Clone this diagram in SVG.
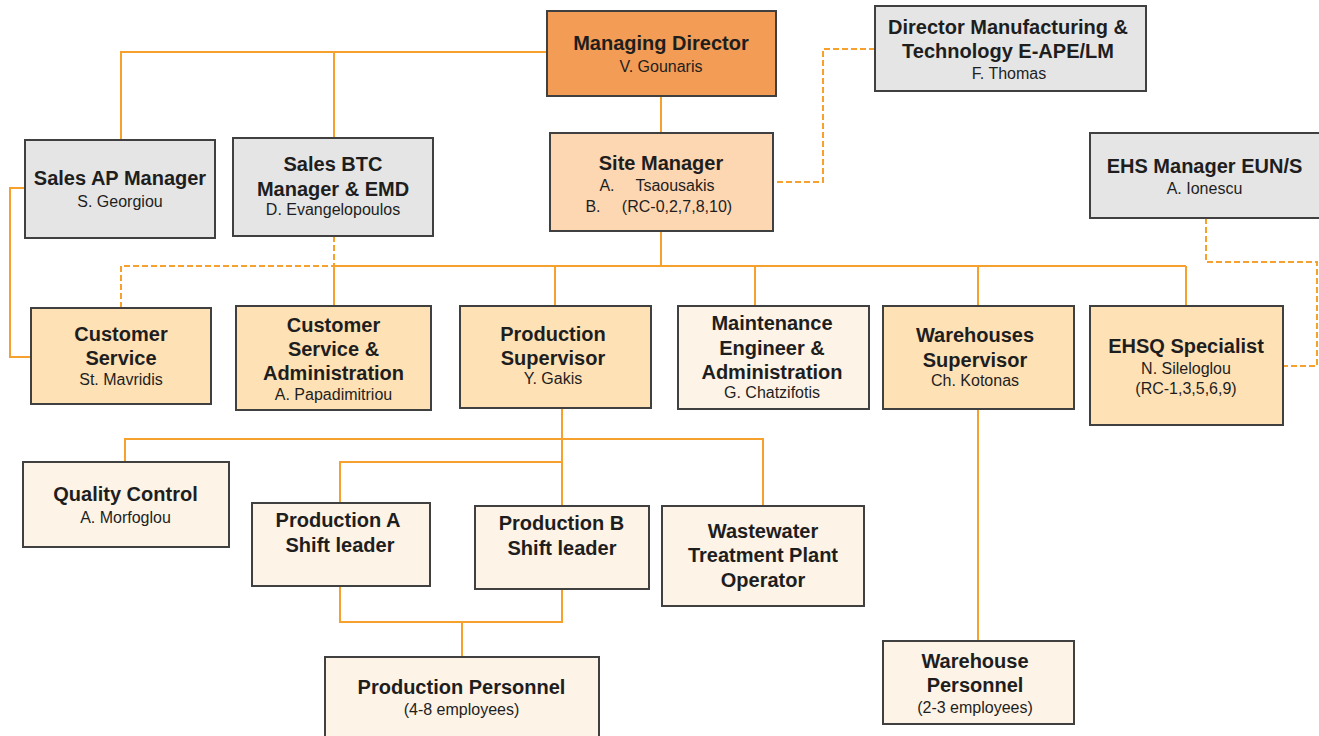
<svg xmlns="http://www.w3.org/2000/svg" width="1319" height="736" viewBox="0 0 1319 736">
  <style>
    .box { stroke: #404040; stroke-width: 2; }
    .md { fill: #F29C55; }
    .site { fill: #FDD6B2; }
    .grey { fill: #E5E5E5; }
    .mid { fill: #FEE2B6; }
    .light { fill: #FDF3E6; }
    .line { fill: none; stroke: #F6A12E; stroke-width: 2; }
    .dash { fill: none; stroke: #F6A12E; stroke-width: 2; stroke-dasharray: 6 3; }
    text { font-family: "Liberation Sans", Arial, sans-serif; fill: #1E1E1E; text-anchor: middle; }
    .t { font-size: 20px; font-weight: bold; }
    .n { font-size: 16px; }
  </style>

  <!-- connectors -->
  <g id="connectors">
    <path class="line" d="M547,52 H121 V140"/>
    <path class="line" d="M334,52 V138"/>
    <path class="line" d="M661,96 V133"/>
    <path class="line" d="M25,188 H10 V357 H31"/>
    <path class="line" d="M661,231 V266"/>
    <path class="line" d="M334,266 H1186"/>
    <path class="line" d="M334,266 V306 M555,266 V306 M755,266 V306 M978,266 V306 M1186,266 V306"/>
    <path class="line" d="M562,408 V506"/>
    <path class="line" d="M125,462 V439 H763 V506"/>
    <path class="line" d="M340,503 V462 H562"/>
    <path class="line" d="M340,586 V622 H562 V589"/>
    <path class="line" d="M462,622 V657"/>
    <path class="line" d="M978,409 V641"/>
    <path class="dash" d="M334,236 V266 H121 V308"/>
    <path class="dash" d="M875,49 H823 V182 H773"/>
    <path class="dash" d="M1206,218 V262 H1317 V366 H1283"/>
  </g>

  <g id="managing-director">
    <rect class="box md" x="547" y="11" width="229" height="85"/>
    <text class="t" x="661" y="50">Managing Director</text>
    <text class="n" x="661" y="71.5">V. Gounaris</text>
  </g>

  <g id="director-manufacturing">
    <rect class="box grey" x="875" y="6" width="271" height="85"/>
    <text class="t" x="1008" y="33.5">Director Manufacturing &amp;</text>
    <text class="t" x="1008" y="57.5">Technology E-APE/LM</text>
    <text class="n" x="1009" y="78.5">F. Thomas</text>
  </g>

  <g id="sales-ap-manager">
    <rect class="box grey" x="25" y="140" width="190" height="98"/>
    <text class="t" x="120" y="185">Sales AP Manager</text>
    <text class="n" x="120" y="206.5">S. Georgiou</text>
  </g>

  <g id="sales-btc-manager">
    <rect class="box grey" x="233" y="138" width="200" height="98"/>
    <text class="t" x="333" y="170.5">Sales BTC</text>
    <text class="t" x="333" y="195.5">Manager &amp; EMD</text>
    <text class="n" x="333" y="215">D. Evangelopoulos</text>
  </g>

  <g id="site-manager">
    <rect class="box site" x="550" y="133" width="223" height="98"/>
    <text class="t" x="661" y="170">Site Manager</text>
    <text class="n" y="190.5"><tspan x="607">A.</tspan><tspan x="675">Tsaousakis</tspan></text>
    <text class="n" y="211.5"><tspan x="593">B.</tspan><tspan x="677">(RC-0,2,7,8,10)</tspan></text>
  </g>

  <g id="ehs-manager">
    <rect class="box grey" x="1090" y="133" width="230" height="85"/>
    <text class="t" x="1204.5" y="172.5">EHS Manager EUN/S</text>
    <text class="n" x="1204.5" y="194">A. Ionescu</text>
  </g>

  <g id="customer-service">
    <rect class="box mid" x="31" y="308" width="180" height="96"/>
    <text class="t" x="121" y="340.5">Customer</text>
    <text class="t" x="121" y="365">Service</text>
    <text class="n" x="121" y="385">St. Mavridis</text>
  </g>

  <g id="customer-service-admin">
    <rect class="box mid" x="236" y="306" width="195" height="104"/>
    <text class="t" x="333.5" y="331.5">Customer</text>
    <text class="t" x="333.5" y="355.5">Service &amp;</text>
    <text class="t" x="333.5" y="380">Administration</text>
    <text class="n" x="333.5" y="400">A. Papadimitriou</text>
  </g>

  <g id="production-supervisor">
    <rect class="box mid" x="460" y="306" width="191" height="102"/>
    <text class="t" x="553" y="340.5">Production</text>
    <text class="t" x="553" y="365">Supervisor</text>
    <text class="n" x="553" y="384">Y. Gakis</text>
  </g>

  <g id="maintenance-engineer">
    <rect class="box light" x="678" y="306" width="191" height="103"/>
    <text class="t" x="772" y="330">Maintenance</text>
    <text class="t" x="772" y="354.5">Engineer &amp;</text>
    <text class="t" x="772" y="378.5">Administration</text>
    <text class="n" x="772" y="398">G. Chatzifotis</text>
  </g>

  <g id="warehouses-supervisor">
    <rect class="box mid" x="883" y="306" width="191" height="103"/>
    <text class="t" x="975" y="341.5">Warehouses</text>
    <text class="t" x="975" y="366.5">Supervisor</text>
    <text class="n" x="975" y="386">Ch. Kotonas</text>
  </g>

  <g id="ehsq-specialist">
    <rect class="box mid" x="1090" y="306" width="193" height="119"/>
    <text class="t" x="1186" y="352.5">EHSQ Specialist</text>
    <text class="n" x="1186" y="374">N. Sileloglou</text>
    <text class="n" x="1186" y="394">(RC-1,3,5,6,9)</text>
  </g>

  <g id="quality-control">
    <rect class="box light" x="23" y="462" width="206" height="85"/>
    <text class="t" x="125.5" y="500.5">Quality Control</text>
    <text class="n" x="125.5" y="522.5">A. Morfoglou</text>
  </g>

  <g id="production-a">
    <rect class="box light" x="252" y="503" width="178" height="83"/>
    <text class="t" x="338" y="526.5">Production A</text>
    <text class="t" x="340" y="551.5">Shift leader</text>
  </g>

  <g id="production-b">
    <rect class="box light" x="475" y="506" width="174" height="83"/>
    <text class="t" x="561.5" y="530">Production B</text>
    <text class="t" x="562" y="554.5">Shift leader</text>
  </g>

  <g id="wastewater-operator">
    <rect class="box light" x="662" y="506" width="202" height="100"/>
    <text class="t" x="763" y="537.5">Wastewater</text>
    <text class="t" x="763" y="562">Treatment Plant</text>
    <text class="t" x="763" y="586.5">Operator</text>
  </g>

  <g id="production-personnel">
    <rect class="box light" x="325" y="657" width="274" height="90"/>
    <text class="t" x="461.5" y="693.5">Production Personnel</text>
    <text class="n" x="461.5" y="715">(4-8 employees)</text>
  </g>

  <g id="warehouse-personnel">
    <rect class="box light" x="883" y="641" width="191" height="83"/>
    <text class="t" x="975" y="667.5">Warehouse</text>
    <text class="t" x="975" y="691.5">Personnel</text>
    <text class="n" x="975" y="712.5">(2-3 employees)</text>
  </g>
</svg>
